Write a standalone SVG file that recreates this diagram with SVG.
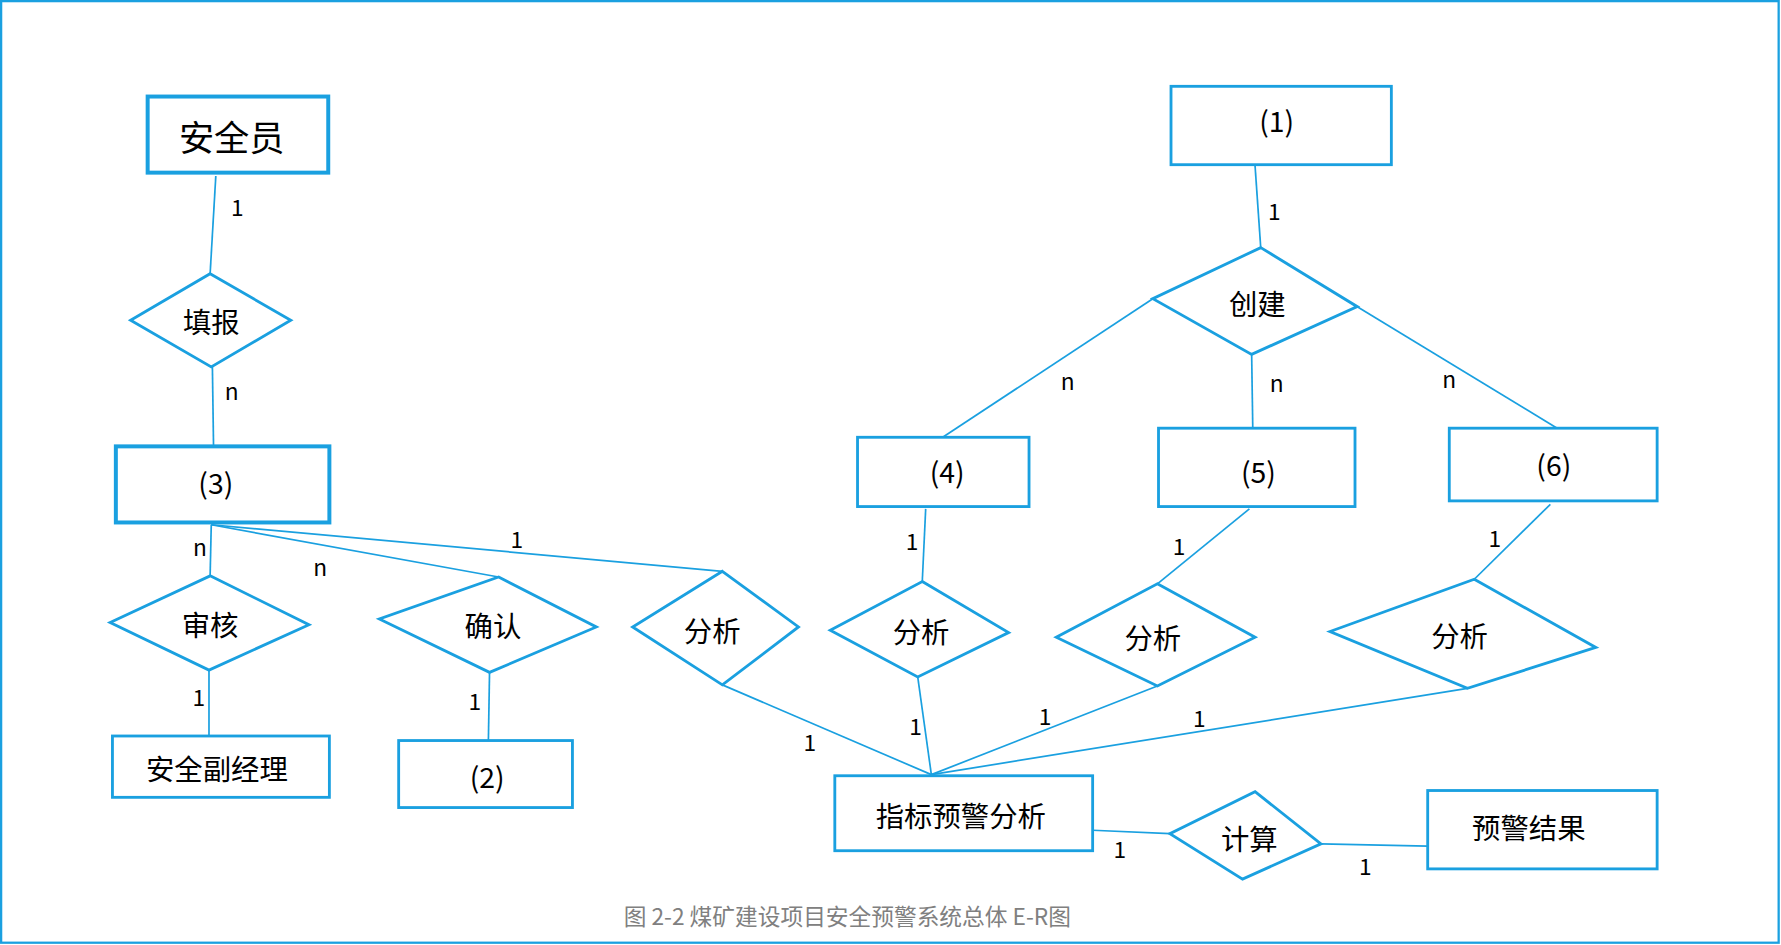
<svg xmlns="http://www.w3.org/2000/svg" width="1781" height="945" viewBox="0 0 1781 945">
<style>
.b{fill:#fff;stroke:#1aa0e0;stroke-width:2.5}
.t{stroke-width:3.5}
.l{stroke:#1aa0e0;stroke-width:1.5;fill:none}
text{font-family:"Noto Sans CJK SC","Noto Sans",sans-serif;fill:#000;text-anchor:middle;dominant-baseline:central}
.x{font-size:25px}
.c{font-size:20px}
</style>
<rect width="1781" height="945" fill="#fff"/>
<g transform="scale(1.1358)">
<rect x="1" y="1" width="1565" height="829" fill="none" stroke="#1aa0e0" stroke-width="2"/>
<g id="connectors" class="l">
<line x1="190" y1="155" x2="185" y2="241"/><line x1="187" y1="323" x2="188" y2="392"/>
<line x1="186" y1="462" x2="185" y2="507"/><line x1="186" y1="462" x2="439" y2="508"/><line x1="186" y1="462" x2="636" y2="503"/>
<line x1="184" y1="590" x2="184" y2="648"/><line x1="431" y1="592" x2="430" y2="652"/>
<line x1="636" y1="603" x2="820" y2="682"/>
<line x1="1105" y1="146" x2="1110" y2="218"/>
<line x1="1015" y1="263" x2="830" y2="385"/><line x1="1102" y1="312" x2="1103" y2="377"/><line x1="1195" y1="270" x2="1371" y2="377"/>
<line x1="815" y1="448" x2="812" y2="512"/><line x1="808" y1="596" x2="820" y2="682"/>
<line x1="1100" y1="448" x2="1019" y2="514"/><line x1="1019" y1="604" x2="820" y2="682"/>
<line x1="1365" y1="444" x2="1298" y2="510"/><line x1="1292" y1="606" x2="820" y2="682"/>
<line x1="962" y1="731" x2="1030" y2="734"/><line x1="1163" y1="743" x2="1257" y2="745"/>
</g>
<g id="labels" class="c">
<text x="209" y="182">1</text><text x="204" y="344">n</text><text x="176" y="481">n</text><text x="282" y="499">n</text><text x="455" y="474">1</text>
<text x="175" y="613">1</text><text x="418" y="617">1</text><text x="713" y="653">1</text><text x="1122" y="185">1</text>
<text x="940" y="335">n</text><text x="1124" y="337">n</text><text x="1276" y="333">n</text>
<text x="803" y="476">1</text><text x="806" y="639">1</text><text x="1038" y="480">1</text><text x="920" y="630">1</text>
<text x="1316" y="473">1</text><text x="1056" y="632">1</text><text x="986" y="747">1</text><text x="1202" y="762">1</text>
</g>
<g id="anquanyuan"><rect class="b t" x="130" y="85" width="159" height="67"/><text x="204" y="119" font-size="31">安全员</text></g>
<g id="tianbao"><polygon class="b" points="185,241 256,282 186,323 115,282"/><text class="x" x="186" y="282">填报</text></g>
<g id="e3"><rect class="b t" x="102" y="393" width="188" height="67"/><text class="x" x="190" y="424">(3)</text></g>
<g id="shenhe"><polygon class="b" points="185,507 272,550 184,590 97,548"/><text class="x" x="185" y="549">审核</text></g>
<g id="fujingli"><rect class="b" x="99" y="648" width="191" height="54"/><text class="x" x="191" y="676">安全副经理</text></g>
<g id="queren"><polygon class="b" points="439,508 525,552 431,592 334,545"/><text class="x" x="434" y="550">确认</text></g>
<g id="e2"><rect class="b" x="351" y="652" width="153" height="59"/><text class="x" x="429" y="683">(2)</text></g>
<g id="fenxi1"><polygon class="b" points="636,503 703,552 636,603 557,552"/><text class="x" x="627" y="554">分析</text></g>
<g id="e1"><rect class="b" x="1031" y="76" width="194" height="69"/><text class="x" x="1124" y="105">(1)</text></g>
<g id="chuangjian"><polygon class="b" points="1110,218 1195,270 1102,312 1015,263"/><text class="x" x="1107" y="266">创建</text></g>
<g id="e4"><rect class="b" x="755" y="385" width="151" height="61"/><text class="x" x="834" y="414">(4)</text></g>
<g id="fenxi2"><polygon class="b" points="812,512 888,557 808,596 731,555"/><text class="x" x="811" y="555">分析</text></g>
<g id="e5"><rect class="b" x="1020" y="377" width="173" height="69"/><text class="x" x="1108" y="414">(5)</text></g>
<g id="fenxi3"><polygon class="b" points="1019,514 1105,561 1019,604 930,561"/><text class="x" x="1015" y="560">分析</text></g>
<g id="e6"><rect class="b" x="1276" y="377" width="183" height="64"/><text class="x" x="1368" y="408">(6)</text></g>
<g id="fenxi4"><polygon class="b" points="1298,510 1405,570 1292,606 1171,556"/><text class="x" x="1285" y="559">分析</text></g>
<g id="zhibiao"><rect class="b" x="735" y="683" width="227" height="66"/><text class="x" x="846" y="717">指标预警分析</text></g>
<g id="jisuan"><polygon class="b" points="1105,697 1163,743 1094,774 1030,734"/><text class="x" x="1100" y="737">计算</text></g>
<g id="jieguo"><rect class="b" x="1257" y="696" width="202" height="69"/><text class="x" x="1346" y="728">预警结果</text></g>
<text x="746" y="806" font-size="20" style="fill:#808080">图 2-2 煤矿建设项目安全预警系统总体 E-R图</text>
</g>
</svg>
